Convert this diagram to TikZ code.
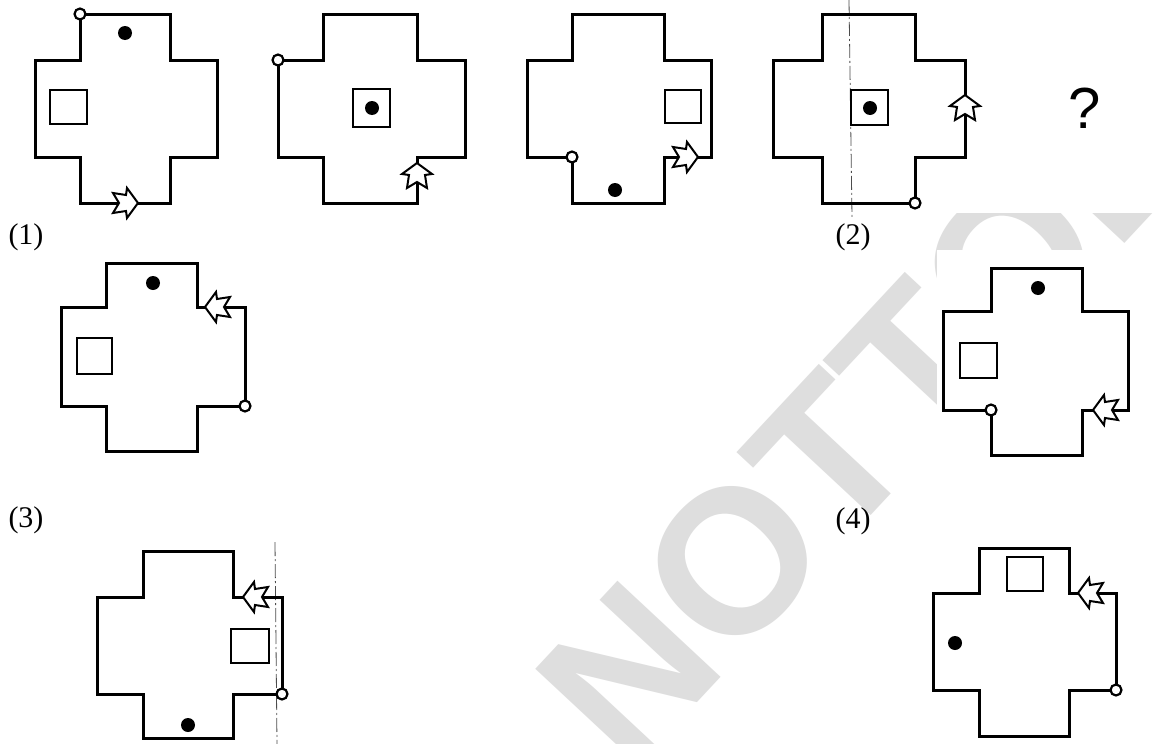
\documentclass[tikz,border=0pt]{standalone}
\usepackage{fontspec}
\setmainfont{Liberation Serif}
\newfontfamily\qfont{Liberation Sans}
\newfontfamily\wmfont{Liberation Sans}
\tikzset{
  outl/.style={line width=3pt, line join=miter},
  sq/.style={line width=2.6pt},
  ring/.style={line width=2.2pt, fill=white},
  blob/.style={fill=black},
  lbl/.style={font=\fontsize{30}{30}\selectfont, inner sep=0pt},
  fold/.style={line width=0.8pt, black!70, dash pattern=on 14pt off 3pt on 2pt off 3pt},
  arrowpic/.pic={\draw[line width=2pt, fill=white, line join=miter]
     (0,0) -- (-11,-15) -- (-12,-8) -- (-25,-10) -- (-19,0) -- (-25,10) -- (-12,8) -- (-11,15) -- cycle;}
}
\newcommand{\crossfig}[8]{%
  \draw[outl] (#3,#5) -- (#4,#5) -- (#4,#6) -- (#2,#6) -- (#2,#7) -- (#4,#7) -- (#4,#8)
     -- (#3,#8) -- (#3,#7) -- (#1,#7) -- (#1,#6) -- (#3,#6) -- cycle;}
\begin{document}
\begin{tikzpicture}[x=1pt,y=-1pt]
\useasboundingbox (0,0) rectangle (1168,744);
\fill[white] (0,0) rectangle (1168,744);
% watermark
\node[rotate=47, text=black!13, font=\wmfont\bfseries\fontsize{205}{205}\selectfont, inner sep=0pt] (wm) at (918,362) {NOTTOBE};
\fill[white] (0,0) rectangle (1168,213);
\fill[white] (937,250) rectangle (1143,455);
\fill[white] (916,510) rectangle (1124,744);

% ---------- top row ----------
% figure 1
\crossfig{35}{217}{80}{170}{14}{60}{157}{203}
\draw[sq] (50,90) rectangle (87,124);
\fill[blob] (125,33) circle (7);
\pic[rotate=0] at (138,203) {arrowpic};
\draw[ring] (80,14) circle (5.5);
% figure 2
\crossfig{278}{465}{323}{417}{14}{60}{157}{203}
\draw[sq] (353,89) rectangle (390,127);
\fill[blob] (372,108) circle (7);
\pic[rotate=90] at (417,163) {arrowpic};
\draw[ring] (278,60) circle (5.5);
% figure 3
\crossfig{527}{711}{572}{664}{14}{60}{157}{203}
\draw[sq] (665,90) rectangle (701,123);
\fill[blob] (615,190) circle (7);
\pic[rotate=0] at (698,157) {arrowpic};
\draw[ring] (572,157) circle (5.5);
% figure 4
\draw[fold] (849,0) -- (852,217);
\crossfig{773}{965}{822}{915}{14}{60}{157}{203}
\draw[sq] (851,90) rectangle (888,125);
\fill[blob] (870,108) circle (7);
\pic[rotate=90] at (965,95) {arrowpic};
\draw[ring] (915,203) circle (5.5);
\node[font=\qfont\fontsize{58}{58}\selectfont, inner sep=0pt] (q) at (1085,108) {?};

% ---------- labels ----------
\node[lbl] (l1) at (26,237) {(1)};
\node[lbl] (l2) at (853,237) {(2)};
\node[lbl] (l3) at (26,520) {(3)};
\node[lbl] (l4) at (853,521) {(4)};

% option 1
\crossfig{61}{245}{106}{197}{263}{307}{406}{451}
\draw[sq] (77,338) rectangle (112,374);
\fill[blob] (153,283) circle (7);
\pic[rotate=180] at (205,307) {arrowpic};
\draw[ring] (245,406) circle (5.5);
% option 2
\crossfig{943}{1128}{991}{1082}{268}{311}{410}{455}
\draw[sq] (960,343) rectangle (997,378);
\fill[blob] (1038,288) circle (7);
\pic[rotate=180] at (1093,410) {arrowpic};
\draw[ring] (991,410) circle (5.5);
% option 3
\draw[fold] (275,542) -- (277,744);
\crossfig{97}{282}{143}{233}{551}{597}{694}{738}
\draw[sq] (231,629) rectangle (269,663);
\fill[blob] (188,725) circle (7);
\pic[rotate=180] at (243,597) {arrowpic};
\draw[ring] (282,694) circle (5.5);
% option 4
\crossfig{933}{1116}{979}{1069}{548}{593}{690}{736}
\draw[sq] (1007,557) rectangle (1043,591);
\fill[blob] (955,643) circle (7);
\pic[rotate=180] at (1078,593) {arrowpic};
\draw[ring] (1116,690) circle (5.5);
\end{tikzpicture}
\end{document}
